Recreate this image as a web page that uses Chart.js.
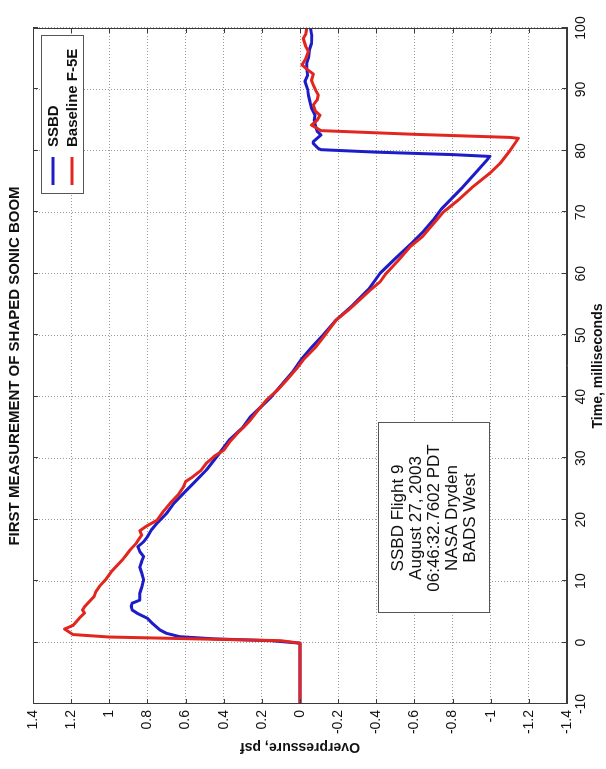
<!DOCTYPE html>
<html>
<head>
<meta charset="utf-8">
<script src="https://cdn.jsdelivr.net/npm/chart.js@4.4.0/dist/chart.umd.min.js"></script>
<style>
  html, body { margin: 0; padding: 0; background: #fff; overflow: hidden; }
  #wrap {
    position: absolute; left: 0; top: 0;
    width: 769px; height: 606px;
    transform-origin: 0 0;
    transform: translate(0, 769px) rotate(-90deg);
  }
</style>
</head>
<body>
<div id="wrap"><canvas id="boomChart" width="769" height="606"></canvas></div>
<script>
// Time axis (ms) and overpressure axis (psf) ticks
var timeTicks = [-10, 0, 10, 20, 30, 40, 50, 60, 70, 80, 90, 100];
var pressTicks = [-1.4, -1.2, -1, -0.8, -0.6, -0.4, -0.2, 0, 0.2, 0.4, 0.6, 0.8, 1, 1.2, 1.4];

// SSBD signature
var ssbdTime = [-10, -0.1, 0.3, 0.6, 0.95, 1.5, 2.04, 3.0, 3.95, 4.7, 5.3, 5.9, 6.4, 6.9, 8.0, 9.0,
    10.2, 11.3, 12.3, 13.2, 14.0, 14.8, 15.6, 16.4, 17.2, 18.3, 19.4, 21, 22.7, 24.3, 26.2, 28.1,
    30.5, 33, 35, 36.75, 38.5, 40, 42.2, 44, 46, 48, 50, 52.5, 55, 57.5, 60.1, 62.5, 65, 67, 68.8,
    70.5, 72, 74, 76.4, 78.5, 79.1, 79.4, 79.8, 80.2, 80.4, 81.2, 81.5, 82.6, 83.2, 84.2, 85, 85.8,
    87, 88, 89, 90, 91.3, 92.3, 93.4, 94.2, 95.1, 96.5, 97.5, 98.9, 100];
var ssbdPress = [0, 0, 0.15, 0.45, 0.63, 0.70, 0.734, 0.77, 0.80, 0.85, 0.88, 0.885, 0.88, 0.84, 0.84, 0.83,
    0.82, 0.83, 0.84, 0.83, 0.82, 0.84, 0.85, 0.82, 0.80, 0.78, 0.75, 0.70, 0.66, 0.61, 0.55, 0.49,
    0.43, 0.37, 0.30, 0.26, 0.20, 0.15, 0.09, 0.04, -0.005, -0.06, -0.12, -0.19, -0.28, -0.36, -0.42, -0.50, -0.586, -0.65, -0.70,
    -0.74, -0.787, -0.85, -0.92, -0.98, -0.996, -0.8, -0.4, -0.11, -0.096, -0.07, -0.07, -0.11, -0.09, -0.08, -0.075, -0.079,
    -0.06, -0.052, -0.045, -0.04, -0.026, -0.04, -0.035, -0.035, -0.044, -0.05, -0.06, -0.061, -0.055];

// Baseline F-5E signature
var f5eTime = [-10, -0.1, 0.3, 0.6, 0.9, 1.3, 2.2, 2.8, 3.5, 4.2, 4.8, 5.3, 5.8, 6.5, 7.5, 8.3, 9.2,
    10.2, 11.5, 12.5, 13.5, 14.3, 15.1, 16.1, 16.8, 17.5, 18.2, 18.85, 19.9, 21.2, 22.7, 24, 25.4,
    26.2, 26.8, 28, 29.2, 30.3, 31.3, 32.6, 34.0, 35.2, 36.2, 37.8, 39.5, 41, 42.7, 44.5, 46, 48,
    50, 52.5, 54, 55.7, 57.4, 58.7, 60, 62, 64.4, 66, 68.8, 70, 72, 74, 76.4, 78, 80, 82.05, 82.2,
    82.7, 83.3, 84.2, 85, 85.8, 86.5, 87.5, 88.3, 89.1, 90, 90.7, 91.5, 92.5, 93.2, 94, 95, 96.2,
    97, 98.3, 99, 100];
var f5ePress = [0, 0, 0.1, 0.55, 1.0, 1.19, 1.235, 1.19, 1.17, 1.15, 1.13, 1.14, 1.13, 1.11, 1.08, 1.07, 1.05,
    1.02, 0.99, 0.96, 0.93, 0.91, 0.89, 0.86, 0.845, 0.83, 0.84, 0.81, 0.75, 0.72, 0.68, 0.64, 0.61,
    0.60, 0.57, 0.52, 0.49, 0.45, 0.40, 0.37, 0.33, 0.29, 0.26, 0.22, 0.175, 0.12, 0.07, 0.02, -0.017, -0.08,
    -0.13, -0.19, -0.25, -0.31, -0.37, -0.42, -0.45, -0.51, -0.577, -0.64, -0.717, -0.75, -0.83, -0.90, -0.996, -1.05, -1.10, -1.145, -1.1,
    -0.6, -0.11, -0.06, -0.09, -0.105, -0.08, -0.07, -0.09, -0.096, -0.08, -0.07, -0.06, -0.07, -0.04, -0.01, -0.03, -0.044,
    -0.03, -0.017, -0.03, -0.035];

var seriesNames = ['SSBD', 'Baseline F-5E'];
var seriesColors = ['#1c1cc8', '#e2261f'];
var infoLines = ['SSBD Flight 9', 'August 27, 2003', '06:46:32.7602 PDT', 'NASA Dryden', 'BADS West'];

function toPoints(xs, ys) {
    return xs.map(function (x, i) { return { x: x, y: ys[i] }; });
}

var FONT = '"Liberation Sans", Arial, Helvetica, sans-serif';
var AXIS = '#3a3a3a';

// Box, inward ticks, titles, legend and text box (MATLAB look)
var matlabFrame = {
    id: 'matlabFrame',
    afterDraw: function (chart) {
        var ctx = chart.ctx;
        var a = chart.chartArea;
        var xs = chart.scales.x, ys = chart.scales.y;
        ctx.save();

        // frame
        ctx.strokeStyle = AXIS;
        ctx.lineWidth = 1;
        ctx.strokeRect(a.left + 0.5, a.top + 0.5, a.right - a.left - 1, a.bottom - a.top - 1);

        // inward ticks on all sides
        ctx.beginPath();
        timeTicks.forEach(function (t) {
            var px = Math.round(xs.getPixelForValue(t)) + 0.5;
            ctx.moveTo(px, a.bottom); ctx.lineTo(px, a.bottom - 5);
            ctx.moveTo(px, a.top); ctx.lineTo(px, a.top + 5);
        });
        pressTicks.forEach(function (p) {
            var py = Math.round(ys.getPixelForValue(p)) + 0.5;
            ctx.moveTo(a.left, py); ctx.lineTo(a.left + 5, py);
            ctx.moveTo(a.right, py); ctx.lineTo(a.right - 5, py);
        });
        ctx.stroke();

        // chart title
        ctx.fillStyle = '#111';
        ctx.textAlign = 'center';
        ctx.textBaseline = 'middle';
        ctx.font = 'bold 15px ' + FONT;
        ctx.fillText('FIRST MEASUREMENT OF SHAPED SONIC BOOM', (a.left + a.right) / 2, 15);

        // x axis title
        ctx.font = 'bold 14px ' + FONT;
        ctx.fillText('Time, milliseconds', (a.left + a.right) / 2, 598);

        // y axis title
        ctx.save();
        ctx.translate(22, (a.top + a.bottom) / 2);
        ctx.rotate(-Math.PI / 2);
        ctx.fillText('Overpressure, psf', 0, 0);
        ctx.restore();

        // legend
        var lx = 575, ly = 41, lw = 158, lh = 42;
        ctx.fillStyle = '#fff';
        ctx.fillRect(lx, ly, lw, lh);
        ctx.strokeStyle = '#555';
        ctx.strokeRect(lx + 0.5, ly + 0.5, lw, lh);
        ctx.font = 'bold 15px ' + FONT;
        ctx.textAlign = 'left';
        seriesNames.forEach(function (name, i) {
            var yy = 53 + i * 19;
            ctx.strokeStyle = seriesColors[i];
            ctx.lineWidth = 3;
            ctx.beginPath();
            ctx.moveTo(584, yy); ctx.lineTo(612, yy);
            ctx.stroke();
            ctx.fillStyle = '#111';
            ctx.fillText(name, 622, yy + 1);
        });

        // flight info box
        var bx = 156, by = 378, bw = 190, bh = 111;
        ctx.fillStyle = '#fff';
        ctx.fillRect(bx, by, bw, bh);
        ctx.strokeStyle = '#555';
        ctx.lineWidth = 1;
        ctx.strokeRect(bx + 0.5, by + 0.5, bw, bh);
        ctx.fillStyle = '#111';
        ctx.font = '17px ' + FONT;
        ctx.textAlign = 'center';
        infoLines.forEach(function (line, i) {
            ctx.fillText(line, bx + bw / 2, by + 20 + i * 18);
        });

        ctx.restore();
    }
};

var gridOpts = { color: '#9a9a9a', lineWidth: 1, drawTicks: false };
var borderOpts = { display: true, color: AXIS, dash: [1, 2] };

new Chart(document.getElementById('boomChart'), {
    type: 'scatter',
    data: {
        datasets: [
            {
                label: seriesNames[0],
                data: toPoints(ssbdTime, ssbdPress),
                borderColor: seriesColors[0],
                order: 1
            },
            {
                label: seriesNames[1],
                data: toPoints(f5eTime, f5ePress),
                borderColor: seriesColors[1],
                order: 0
            }
        ]
    },
    options: {
        responsive: false,
        animation: false,
        devicePixelRatio: 1,
        showLine: true,
        elements: {
            point: { radius: 0, hoverRadius: 0 },
            line: { borderWidth: 3, tension: 0, fill: false, borderJoinStyle: 'round' }
        },
        layout: { padding: { top: 33, right: 28, left: 0, bottom: 0 } },
        plugins: {
            legend: { display: false },
            tooltip: { enabled: false }
        },
        scales: {
            x: {
                type: 'linear',
                min: -10,
                max: 100,
                afterFit: function (s) { s.height = 39; },
                afterBuildTicks: function (s) { s.ticks = timeTicks.map(function (v) { return { value: v }; }); },
                grid: gridOpts,
                border: borderOpts,
                ticks: {
                    autoSkip: false, maxRotation: 0, padding: 6, color: '#111',
                    font: { family: FONT, size: 14 }
                }
            },
            y: {
                type: 'linear',
                min: -1.4,
                max: 1.4,
                afterFit: function (s) { s.width = 65; },
                afterBuildTicks: function (s) { s.ticks = pressTicks.map(function (v) { return { value: v }; }); },
                grid: gridOpts,
                border: borderOpts,
                ticks: {
                    autoSkip: false, padding: 6, color: '#111',
                    font: { family: FONT, size: 14 },
                    callback: function (v) { return String(Number(v.toFixed(1))); }
                }
            }
        }
    },
    plugins: [matlabFrame]
});
</script>
</body>
</html>
